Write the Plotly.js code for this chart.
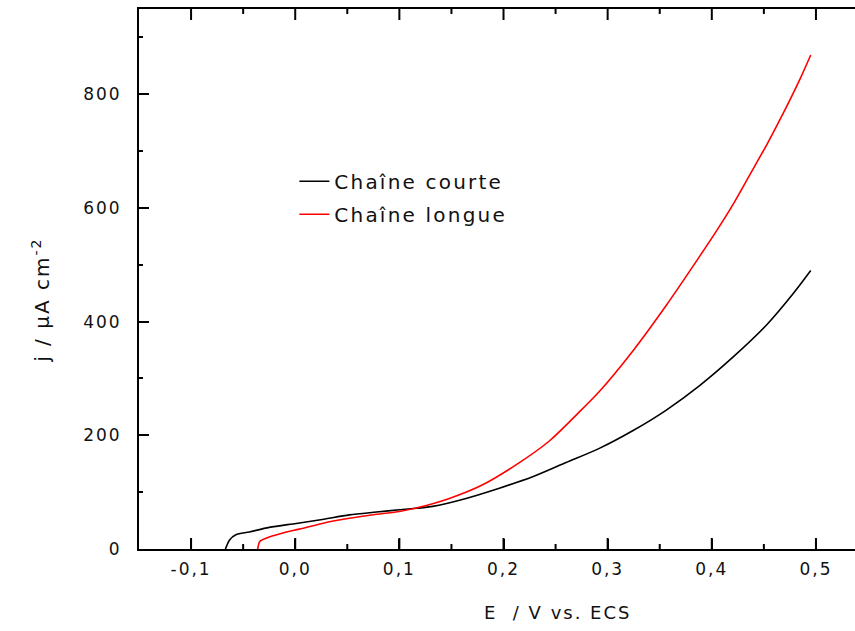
<!DOCTYPE html>
<html>
<head>
<meta charset="utf-8">
<script src="https://cdn.plot.ly/plotly-3.0.1.min.js"></script>
<style>
  html, body { margin: 0; padding: 0; background: #fff; overflow: hidden; }
  #chart { width: 855px; height: 631px; }
  .xtick text, .ytick text { letter-spacing: 2px; }
  .legendtext { letter-spacing: 2.2px; }
  .annotation-text { letter-spacing: 2px; }
</style>
</head>
<body>
<div id="chart"></div>
<script>
// Chaîne courte (black)
const E_courte = [-0.067,-0.063,-0.057,-0.044,-0.025,0.001,0.026,0.052,0.078,0.100,0.132,0.164,0.196,0.228,0.260,0.292,0.324,0.356,0.388,0.420,0.453,0.478,0.495];
const j_courte = [0,16,25,30,38,45,52,60,65,69,75,89,107,127,152,177,208,244,287,337,395,449,490];
// Chaîne longue (red)
const E_longue = [-0.036,-0.034,-0.028,-0.012,0.004,0.026,0.052,0.078,0.100,0.116,0.148,0.180,0.212,0.244,0.270,0.292,0.324,0.356,0.388,0.405,0.420,0.437,0.453,0.469,0.485,0.495];
const j_longue = [0,13,19,28,35,45,54,61,66,72,89,113,148,190,236,277,348,428,514,561,605,660,712,768,828,869];

const seriesNames = ['Chaîne courte', 'Chaîne longue'];
const xTickVals = [-0.1, 0.0, 0.1, 0.2, 0.3, 0.4, 0.5];
const xTickText = ['-0,1', '0,0', '0,1', '0,2', '0,3', '0,4', '0,5'];
const xMinorVals = [-0.05, 0.05, 0.15, 0.25, 0.35, 0.45];
const yTickVals = [0, 200, 400, 600, 800];
const yTickText = ['0', '200', '400', '600', '800'];
const yMinorVals = [100, 300, 500, 700, 900];

const FONT = 'DejaVu Sans, Verdana, sans-serif';
const X_RANGE = [-0.15, 0.5375];

const traces = [
  { x: E_courte, y: j_courte, name: seriesNames[0], legendgroup: 'a', mode: 'lines',
    line: { color: '#000000', width: 1.6, shape: 'spline', smoothing: 0.8 } },
  { x: E_longue, y: j_longue, name: seriesNames[1], legendgroup: 'b', mode: 'lines',
    line: { color: '#ff0000', width: 1.6, shape: 'spline', smoothing: 0.8 } }
];

// inward tick marks on bottom and top x axes, placed at the tick values
function tickShape(val, len, atTop) {
  return {
    type: 'line', xref: 'x', yref: 'paper', ysizemode: 'pixel',
    yanchor: atTop ? 1 : 0, x0: val, x1: val, y0: 0, y1: atTop ? -len : len,
    line: { color: '#000', width: 2 }, layer: 'above'
  };
}
const shapes = [];
xTickVals.forEach(v => { shapes.push(tickShape(v, 11, false)); shapes.push(tickShape(v, 11, true)); });
xMinorVals.forEach(v => { shapes.push(tickShape(v, 5, false)); shapes.push(tickShape(v, 5, true)); });

const layout = {
  width: 855, height: 631,
  margin: { l: 139, r: 0, t: 9, b: 82 },
  paper_bgcolor: '#ffffff', plot_bgcolor: '#ffffff',
  font: { family: FONT, color: '#000', size: 17 },
  showlegend: true,
  legend: {
    x: 0.217, y: 0.717, xanchor: 'left', yanchor: 'top',
    bgcolor: 'rgba(0,0,0,0)', borderwidth: 0,
    font: { family: FONT, size: 20, color: '#111' },
    traceorder: 'grouped', tracegroupgap: 4
  },
  xaxis: {
    range: X_RANGE, showgrid: false, zeroline: false,
    showline: true, linecolor: '#000', linewidth: 2, mirror: true,
    ticks: 'inside', ticklen: 10, tickwidth: 2, tickcolor: '#000',
    tickmode: 'array', tickvals: xTickVals, ticktext: xTickText,
    ticklabelstandoff: 4,
    tickfont: { family: FONT, size: 17, color: '#111' }
  },
  yaxis: {
    range: [0, 950], showgrid: false, zeroline: false,
    showline: true, linecolor: '#000', linewidth: 2,
    ticks: 'inside', ticklen: 10, tickwidth: 2, tickcolor: '#000',
    tickmode: 'array', tickvals: yTickVals, ticktext: yTickText,
    ticklabelstandoff: 12,
    minor: { tickmode: 'array', tickvals: yMinorVals, ticks: 'inside', ticklen: 4, tickwidth: 2, tickcolor: '#000' },
    tickfont: { family: FONT, size: 17, color: '#111' }
  },
  shapes: shapes,
  annotations: [
    { text: 'E&nbsp;&nbsp;/ V vs. ECS', xref: 'paper', yref: 'paper', x: 0.584, y: -0.117,
      xanchor: 'center', yanchor: 'middle', showarrow: false,
      font: { family: FONT, size: 18, color: '#111' } },
    { text: 'j / µA cm<sup>-2</sup>', xref: 'paper', yref: 'paper', x: -0.138, y: 0.46,
      xanchor: 'center', yanchor: 'middle', showarrow: false, textangle: -90,
      font: { family: FONT, size: 20, color: '#111' } }
  ]
};

Plotly.newPlot('chart', traces, layout, { displayModeBar: false, staticPlot: true });
</script>
</body>
</html>
